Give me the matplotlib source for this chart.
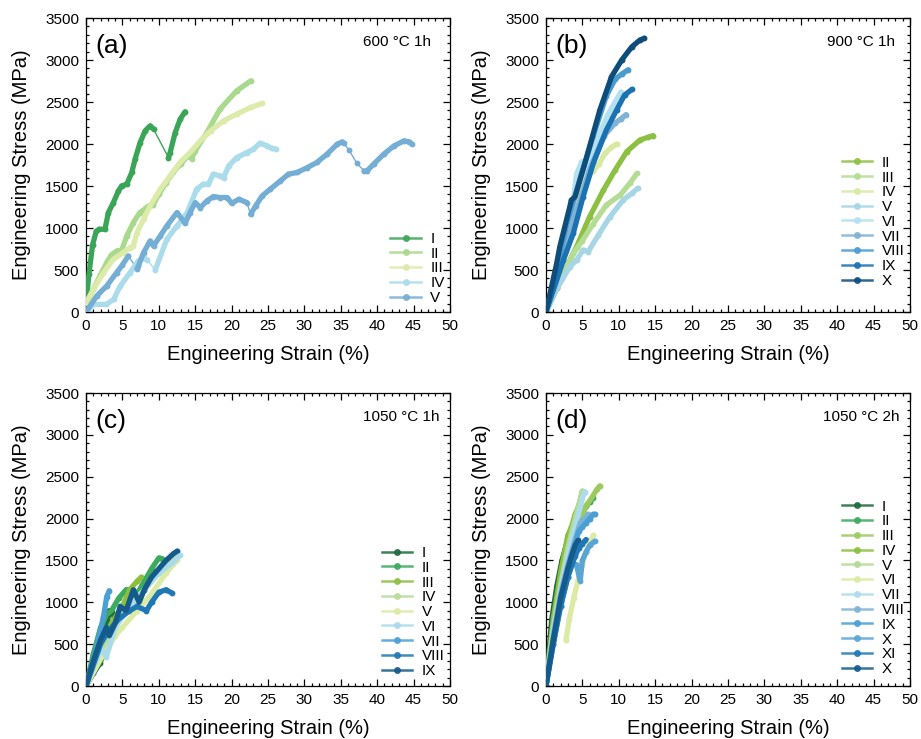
import numpy as np
import matplotlib
matplotlib.use('Agg')
from matplotlib import pyplot as plt
from matplotlib.ticker import MultipleLocator
from matplotlib.lines import Line2D

plt.rcParams['font.family'] = ['Liberation Sans', 'DejaVu Sans']

nan = np.nan

# ---------------- data (strain %, stress MPa); nan = gap in the record ----------------
# (a) 600 C 1h
a_labels = ['I', 'II', 'III', 'IV', 'V']
a_colors = ['#3ba557', '#a8d98c', '#dcebaa', '#aadcec', '#74aed4']
a_strain = [
    [0, 0.4, 0.9, 1.4, 1.8, 2.6, 3.07, 3.76, 4.45, 4.9, 5.6, 6.28, 6.74, 7.43, 8.12, 8.8, 9.27, nan,
     11.33, 11.56, 12.25, 12.94, 13.6],
    [0, 1.0, 1.9, 2.84, 3.5, 4.2, 4.9, 5.6, 6.5, 7.4, 8.6, 9.2, 10, 11, 12, 13, 14, 14.5, 15.0,
     16.6, 18.4, 20.7, 22.66],
    [0, 1.0, 2.4, 3.76, 5.1, 6.05, 6.5, 7.0, 7.9, 8.8, 10.2, 11.56, 12.9, 14.3, 15.7, 17.1, 18.9,
     20.7, 22.6, 24.2],
    [0, 1.0, 2.8, 3.8, 4.7, 6.05, 7.2, 7.9, 8.4, nan, 9.5, 11.1, 12.5, 13.9, 15.2, 16.1, 16.8, 17.5,
     18.4, 18.9, 19.6, 20.7, 22.1, 23.0, 23.9, 24.9, 25.5, 26.1],
    [0, 1.47, 2.84, 4.2, 5.0, 5.8, nan, 7.0, 7.2, 7.9, 8.8, 9.27, 10.2, 11.1, 12.5, 13.6, 14.3, 15.0,
     15.7, 16.6, 17.5, 18.4, 19.4, 20.0, 21.0, 22.1, nan, 22.6, 23.3, 24.2, 25.3, 26.7, 27.8, 29.0,
     30.4, 31.7, 33.1, 34.5, 35.2, 35.4, nan, 36.1, nan, 37.2, nan, 38.2, 38.6, 39.5, 40.9, 42.3,
     43.7, 44.4, 44.8],
]
a_stress = [
    [100, 450, 800, 960, 985, 985, 1184, 1303, 1442, 1502, 1522, 1661, 1820, 2018, 2157, 2217, 2177, nan,
     1839, 1899, 2137, 2296, 2384],
    [100, 270, 429, 588, 680, 727, 735, 906, 1065, 1184, 1263, 1275, 1400, 1540, 1670, 1760, 1860, 1827,
     1919, 2137, 2415, 2634, 2753],
    [100, 270, 469, 628, 707, 767, 787, 946, 1104, 1263, 1462, 1621, 1780, 1899, 2038, 2157, 2277,
     2356, 2435, 2483],
    [0, 91, 91, 151, 310, 469, 608, 648, 620, nan, 500, 866, 1025, 1184, 1462, 1522, 1522, 1641,
     1621, 1601, 1740, 1839, 1899, 1939, 2010, 1978, 1947, 1939],
    [0, 191, 310, 469, 560, 667, nan, 516, 548, 707, 846, 787, 906, 1025, 1184, 1057, 1184, 1303,
     1244, 1323, 1375, 1363, 1363, 1295, 1343, 1303, nan, 1164, 1263, 1383, 1462, 1561, 1641, 1661,
     1720, 1780, 1879, 1998, 2026, 2010, nan, 1931, nan, 1772, nan, 1680, 1680, 1760, 1879, 1978,
     2038, 2026, 1998],
]

# (b) 900 C 1h
b_labels = ['II', 'III', 'IV', 'V', 'VI', 'VII', 'VIII', 'IX', 'X']
b_colors = ['#8cc043', '#b5dc94', '#d8eaa2', '#a6d6e6', '#b3e1ef', '#7fb2d5', '#4a9bd0', '#1b72b3', '#0e4d7a']
b_strain = [
    [0, 1.5, 3.3, 4.2, 6.0, 7.9, 9.5, 11.1, 12.9, 14.0, 14.7],
    [0, 1.5, 3.75, 5.0, 6.5, 8.3, 10.2, 11.5, 12.5],
    [0, 2.0, 3.76, 4.67, 5.5, 6.5, 7.3, 8.1, 9.0, 9.7],
    [0, 1.5, 3.3, 4.2, 5.1, 5.8, 7.2, 8.8, 10.6, 11.8, 12.6],
    [0, 2.0, 3.5, 4.2, 4.9, 5.4, 6.5, 7.5, 8.5, 9.5, 10.3],
    [0, 2.0, 4.0, 6.0, 8.0, 9.5, 10.3, 11.0],
    [0, 1.5, 2.8, 4.66, 6.5, 8.3, 9.5, 10.4, 11.3],
    [0, 2.4, 3.75, 5.1, 6.5, 8.3, 9.7, 10.8, 11.8],
    [0, 1.47, 1.9, 3.5, 4.0, 5.6, 7.4, 9.0, 10.4, 11.8, 12.9, 13.5],
]
b_stress = [
    [0, 280, 619, 778, 1135, 1452, 1690, 1909, 2048, 2080, 2100],
    [0, 300, 698, 850, 1050, 1274, 1393, 1531, 1650],
    [0, 600, 1214, 1492, 1600, 1680, 1760, 1889, 1960, 2000],
    [0, 280, 540, 619, 738, 718, 917, 1135, 1333, 1412, 1472],
    [0, 600, 1150, 1640, 1790, 1650, 1900, 2150, 2350, 2500, 2620],
    [0, 550, 1150, 1700, 2100, 2250, 2300, 2350],
    [0, 500, 1025, 1581, 2098, 2574, 2773, 2833, 2884],
    [0, 619, 937, 1373, 1770, 2167, 2405, 2583, 2650],
    [0, 579, 778, 1333, 1373, 1849, 2405, 2801, 3000, 3158, 3238, 3258],
]

# (c) 1050 C 1h
c_labels = ['I', 'II', 'III', 'IV', 'V', 'VI', 'VII', 'VIII', 'IX']
c_colors = ['#1e6b3b', '#3eaa5e', '#8cbf3f', '#b9dd98', '#dbeaa5', '#a9dbec', '#4a9fd5', '#1f78b4', '#145a8a']
c_strain = [
    [0, 1.0, 1.9, 2.4, 2.9, 3.2, 3.6, 3.9],
    [0, 1.0, 2.0, 2.8, 3.5, 4.5, 5.5, 6.0, 6.4, 7.0, 8.0, 9.0, 10.0, 10.5],
    [0, 2.0, 3.5, 5.0, 6.0, 7.0, 7.6],
    [0, 2, 4, 6, 8, 10, 12.4],
    [0, 2, 3, 4, 5, 7, 9, 11, 12.5],
    [0, 2, 2.8, 4, 6, 8, 10, 12, 12.9],
    [0, 1.47, 2.4, 2.84, 3.2],
    [0, 2, 3, 4.5, 6, 7, 8.3, 9, 10, 11, 11.8],
    [0, 1, 2, 2.8, 3.2, 4, 4.7, 5.5, 6.5, 7.3, 8, 9, 10, 11, 12, 12.5],
]
c_stress = [
    [0, 150, 270, 400, 750, 900, 880, 820],
    [0, 380, 700, 850, 900, 1050, 1150, 1150, 1000, 1100, 1250, 1400, 1530, 1520],
    [0, 450, 750, 950, 1150, 1250, 1300],
    [0, 380, 720, 950, 1150, 1350, 1560],
    [0, 320, 450, 600, 700, 900, 1100, 1350, 1500],
    [0, 450, 350, 700, 950, 1150, 1350, 1480, 1560],
    [0, 470, 828, 1067, 1138],
    [0, 500, 650, 800, 900, 950, 900, 1000, 1120, 1150, 1110],
    [0, 300, 550, 700, 600, 750, 950, 900, 1150, 1000, 1150, 1300, 1400, 1500, 1580, 1610],
]

# (d) 1050 C 2h
d_labels = ['I', 'II', 'III', 'IV', 'V', 'VI', 'VII', 'VIII', 'IX', 'X', 'XI', 'X']
d_colors = ['#1e6b3b', '#3eaa5e', '#9cca5e', '#8cbf3f', '#b3db95', '#dbeaa5', '#addcec', '#7fb3d5',
            '#4a9fd5', '#5aa5d5', '#1f78b4', '#145a8a']
d_strain = [
    [0, 0.3, 0.8, 1.5, 2.2, 3.0],
    [0, 1, 2, 3, 4, 5, 5.5, 6, 6.5],
    [0, 1, 2, 3, 3.5, 4, 5, 5.5, 6.3, 7, 7.4],
    [0, 1, 2, 3, 3.5, 4, 4.5, 5],
    [0, 1, 2, 3, 4, 5],
    [2.75, 3.2, 3.8, 4.5, 5, 5.5, 6, 6.5],
    [0, 1, 2, 3, 4, 4.6, 5.2, 5.4],
    [0, 1, 2, 3, 4, 4.7, 5.3, 5.8],
    [0, 1, 2, 3, 4, 4.5, 5, 5.5, 6, 6.5, 6.8],
    [0, 1, 2, 3, 3.5, 4.2, 4.7, 5, 5.5, 6, 6.7],
    [0, 1, 2, 3, 4, 4.5, 5, 5.5],
    [0, 1, 2, 3, 3.5, 4, 4.4],
]
d_stress = [
    [0, 300, 800, 1200, 1500, 1750],
    [0, 700, 1200, 1550, 1850, 2050, 2150, 2200, 2250],
    [0, 700, 1250, 1650, 1850, 2000, 2050, 2150, 2250, 2350, 2390],
    [0, 800, 1350, 1800, 1900, 2050, 2150, 2320],
    [0, 700, 1200, 1650, 2000, 2330],
    [550, 800, 1050, 1300, 1450, 1600, 1700, 1800],
    [0, 650, 1150, 1550, 1900, 2100, 2300, 2320],
    [0, 600, 1100, 1450, 1750, 1950, 2000, 2050],
    [0, 550, 1000, 1400, 1700, 1850, 1900, 1950, 2000, 2050, 2050],
    [0, 500, 950, 1300, 1450, 1450, 1250, 1500, 1600, 1680, 1730],
    [0, 500, 950, 1300, 1550, 1650, 1700, 1750],
    [0, 550, 1050, 1400, 1550, 1680, 1740],
]

panels = [
    ('(a)', '600 °C 1h', a_labels, a_colors, a_strain, a_stress),
    ('(b)', '900 °C 1h', b_labels, b_colors, b_strain, b_stress),
    ('(c)', '1050 °C 1h', c_labels, c_colors, c_strain, c_stress),
    ('(d)', '1050 °C 2h', d_labels, d_colors, d_strain, d_stress),
]

# axes rectangles (figure fraction) and legend anchors
rects = [[0.0934, 0.5778, 0.3952, 0.3978], [0.5928, 0.5778, 0.3952, 0.3978],
         [0.0934, 0.0717, 0.3952, 0.3965], [0.5928, 0.0717, 0.3952, 0.3965]]
leg_y = [0.024, 0.082, 0.027, 0.034]
cond_x = [0.761, 0.771, 0.761, 0.761]

fig = plt.figure(figsize=(9.21, 7.39), dpi=100)

for k, (tag, cond, labels, colors, strain, stress) in enumerate(panels):
    ax = fig.add_axes(rects[k])
    handles = []
    for lab, col, x, y in zip(labels, colors, strain, stress):
        x = np.array(x, dtype=float)
        y = np.array(y, dtype=float)
        ok = ~np.isnan(x)
        # thin connector through gaps in the record, with the sparse points marked
        ax.plot(x[ok], y[ok], color=col, lw=1.0, marker='o', ms=3.2, zorder=2)
        # dense parts of the record look like a thick line
        ax.plot(x, y, color=col, lw=3.8, solid_joinstyle='round', solid_capstyle='round', zorder=3)
        handles.append(Line2D([], [], color=col, lw=1.8, alpha=0.85, marker='o', ms=4,
                              markerfacecolor=col, markeredgecolor=col))

    ax.set_xlim(0, 50)
    ax.set_ylim(0, 3500)
    ax.xaxis.set_major_locator(MultipleLocator(5))
    ax.xaxis.set_minor_locator(MultipleLocator(1))
    ax.yaxis.set_major_locator(MultipleLocator(500))
    ax.yaxis.set_minor_locator(MultipleLocator(100))
    ax.tick_params(which='both', direction='in', top=True, right=True, labelsize=11, width=0.9)
    ax.tick_params(which='major', length=5, pad=5)
    ax.tick_params(which='minor', length=2.5)
    for sp in ax.spines.values():
        sp.set_linewidth(0.9)
    ax.set_xlabel('Engineering Strain (%)', fontsize=14.5, labelpad=9)
    ax.set_ylabel('Engineering Stress (MPa)', fontsize=14.5, labelpad=10)

    ax.text(0.025, 0.905, tag, transform=ax.transAxes, fontsize=19, ha='left', va='center')
    ax.text(cond_x[k], 0.918, cond, transform=ax.transAxes, fontsize=11, ha='left', va='center')

    ax.legend(handles, labels, loc='lower right', bbox_to_anchor=(0.985, leg_y[k]), frameon=False,
              fontsize=11, labelspacing=0.05, handlelength=2.0, handletextpad=0.6, borderpad=0,
              borderaxespad=0)

plt.savefig('out.png', dpi=100)
